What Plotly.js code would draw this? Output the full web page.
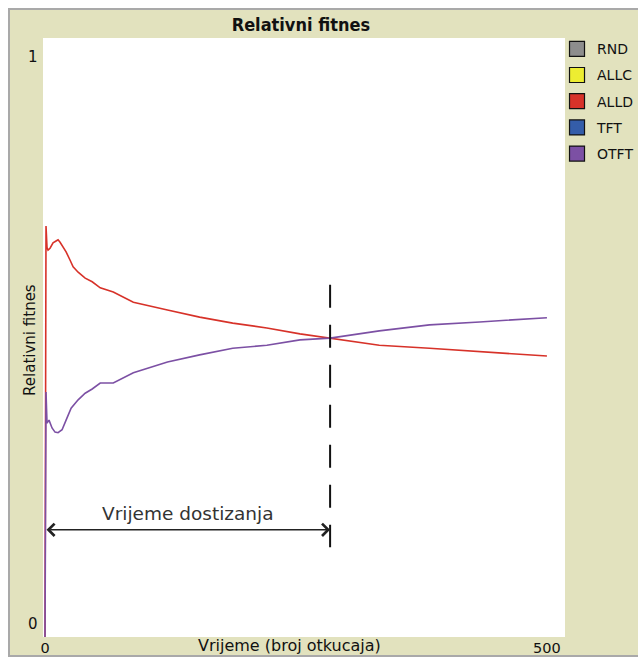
<!DOCTYPE html>
<html>
<head>
<meta charset="utf-8">
<script src="https://cdn.plot.ly/plotly-3.0.1.min.js"></script>
<style>
  html, body { margin: 0; padding: 0; background: #ffffff; width: 638px; height: 662px; overflow: hidden; }
  #frame { position: absolute; left: 8px; top: 8px; width: 632px; height: 645px;
           border-left: 2px solid #a9a9a9; border-top: 2px solid #a9a9a9; border-bottom: 2px solid #a9a9a9; }
  #chart { position: absolute; left: 0; top: 0; width: 628px; height: 645px; }
</style>
</head>
<body>
<div id="frame"><div id="chart"></div></div>
<script>
// ---- data ----
const seriesNames  = ['RND', 'ALLC', 'ALLD', 'TFT', 'OTFT'];
const seriesColors = ['#8d8d8d', '#eded31', '#d73229', '#345da9', '#7c50a4'];

const alldTime    = [0, 1, 2, 3, 5, 8, 11, 13, 15, 18, 21, 25, 28, 33, 40, 47, 55, 68, 88, 122, 154, 187, 221, 254, 284, 333, 383, 433, 500];
const alldFitness = [0, 0.686, 0.650, 0.646, 0.649, 0.658, 0.661, 0.663, 0.659, 0.651, 0.643, 0.629, 0.618, 0.609, 0.599, 0.593, 0.583, 0.576, 0.559, 0.546, 0.534, 0.524, 0.516, 0.506, 0.499, 0.487, 0.482, 0.476, 0.469];

const otftTime    = [0, 1, 2, 4, 7, 10, 13, 17, 21, 26, 33, 40, 47, 55, 68, 88, 122, 154, 187, 221, 254, 284, 333, 383, 433, 500];
const otftFitness = [0, 0.409, 0.357, 0.362, 0.349, 0.342, 0.341, 0.346, 0.362, 0.382, 0.396, 0.407, 0.414, 0.424, 0.424, 0.441, 0.459, 0.471, 0.482, 0.487, 0.496, 0.499, 0.511, 0.521, 0.526, 0.533];

const xTickValues = [0, 500];
const xTickLabels = ['0', '500'];
const yTickValues = [0, 1];
const yTickLabels = ['0', '1'];

const reachTime = 284;          // crossing time ("Vrijeme dostizanja")
const markerTop = 0.588, markerBottom = 0.150, arrowLevel = 0.179, labelLevel = 0.207;

// ---- traces ----
const FONT = 'DejaVu Sans, Verdana, sans-serif';
const traces = [];
seriesNames.forEach((name, i) => {
  traces.push({
    x: [null], y: [null], type: 'scatter', mode: 'markers', name: name,
    legendgroup: name, showlegend: true, hoverinfo: 'skip',
    marker: { symbol: 'square', size: 15, color: seriesColors[i], line: { color: '#111', width: 1.2 } }
  });
});
traces.push({
  x: alldTime, y: alldFitness, type: 'scatter', mode: 'lines', name: 'ALLD',
  showlegend: false, line: { color: seriesColors[2], width: 1.6 }
});
traces.push({
  x: otftTime, y: otftFitness, type: 'scatter', mode: 'lines', name: 'OTFT',
  showlegend: false, line: { color: seriesColors[4], width: 1.6 }
});

const layout = {
  width: 628, height: 645,
  paper_bgcolor: 'rgb(226,226,190)',
  plot_bgcolor: '#ffffff',
  margin: { l: 33, r: 73, t: 28, b: 18, pad: 0, autoexpand: false },
  title: { text: '<b>Relativni fitnes</b>', font: { family: 'DejaVu Sans Condensed, DejaVu Sans, sans-serif', size: 18, color: '#111' },
           x: 0.494, xref: 'paper', xanchor: 'center', y: 0.977, yref: 'container', yanchor: 'middle' },
  showlegend: true,
  legend: { x: 0.9847, xref: 'paper', xanchor: 'left', y: 1.008, yanchor: 'top',
            bgcolor: 'rgba(0,0,0,0)', borderwidth: 0, tracegroupgap: 5,
            font: { family: FONT, size: 14, color: '#111' }, traceorder: 'grouped' },
  xaxis: { range: [-2, 518], tickvals: xTickValues, ticktext: xTickLabels, ticks: '',
           showgrid: false, zeroline: false, showline: false, fixedrange: true,
           tickfont: { family: FONT, size: 14.5, color: '#111' } },
  yaxis: { range: [0, 1], tickvals: yTickValues, showticklabels: false, ticks: '',
           showgrid: false, zeroline: false, showline: false, fixedrange: true },
  shapes: [
    { type: 'line', xref: 'x', yref: 'y', x0: reachTime, x1: reachTime, y0: markerTop, y1: markerBottom,
      line: { color: '#111', width: 2, dash: '23px,17px' } }
  ],
  annotations: [
    { text: yTickLabels[1], xref: 'paper', yref: 'y', x: -0.019, y: yTickValues[1], xanchor: 'center', yanchor: 'top', yshift: -8,
      showarrow: false, font: { family: FONT, size: 15, color: '#111' } },
    { text: yTickLabels[0], xref: 'paper', yref: 'y', x: -0.019, y: yTickValues[0], xanchor: 'center', yanchor: 'bottom', yshift: 2,
      showarrow: false, font: { family: FONT, size: 15, color: '#111' } },
    { text: 'Vrijeme (broj otkucaja)', xref: 'paper', yref: 'paper', x: 0.473, y: -0.0150, xanchor: 'center', yanchor: 'middle',
      showarrow: false, font: { family: FONT, size: 16, color: '#111' } },
    { text: 'Relativni fitnes', xref: 'paper', yref: 'paper', x: -0.0249, y: 0.496, xanchor: 'center', yanchor: 'middle',
      textangle: -90, showarrow: false, font: { family: FONT, size: 15, color: '#111' } },
    { text: '', xref: 'x', yref: 'y', x: reachTime, y: arrowLevel, axref: 'x', ayref: 'y', ax: 0, ay: arrowLevel,
      showarrow: true, arrowside: 'end+start', arrowhead: 4, startarrowhead: 4, arrowsize: 1.7, startarrowsize: 1.7,
      arrowwidth: 1.4, arrowcolor: '#222', standoff: 0, startstandoff: 0 },
    { text: 'Vrijeme dostizanja', xref: 'x', yref: 'y', x: reachTime / 2, y: labelLevel, xanchor: 'center', yanchor: 'middle',
      showarrow: false, font: { family: 'DejaVu Sans, sans-serif', size: 18.5, color: '#333' } }
  ]
};

Plotly.newPlot('chart', traces, layout, { staticPlot: true, displayModeBar: false });
</script>
</body>
</html>
